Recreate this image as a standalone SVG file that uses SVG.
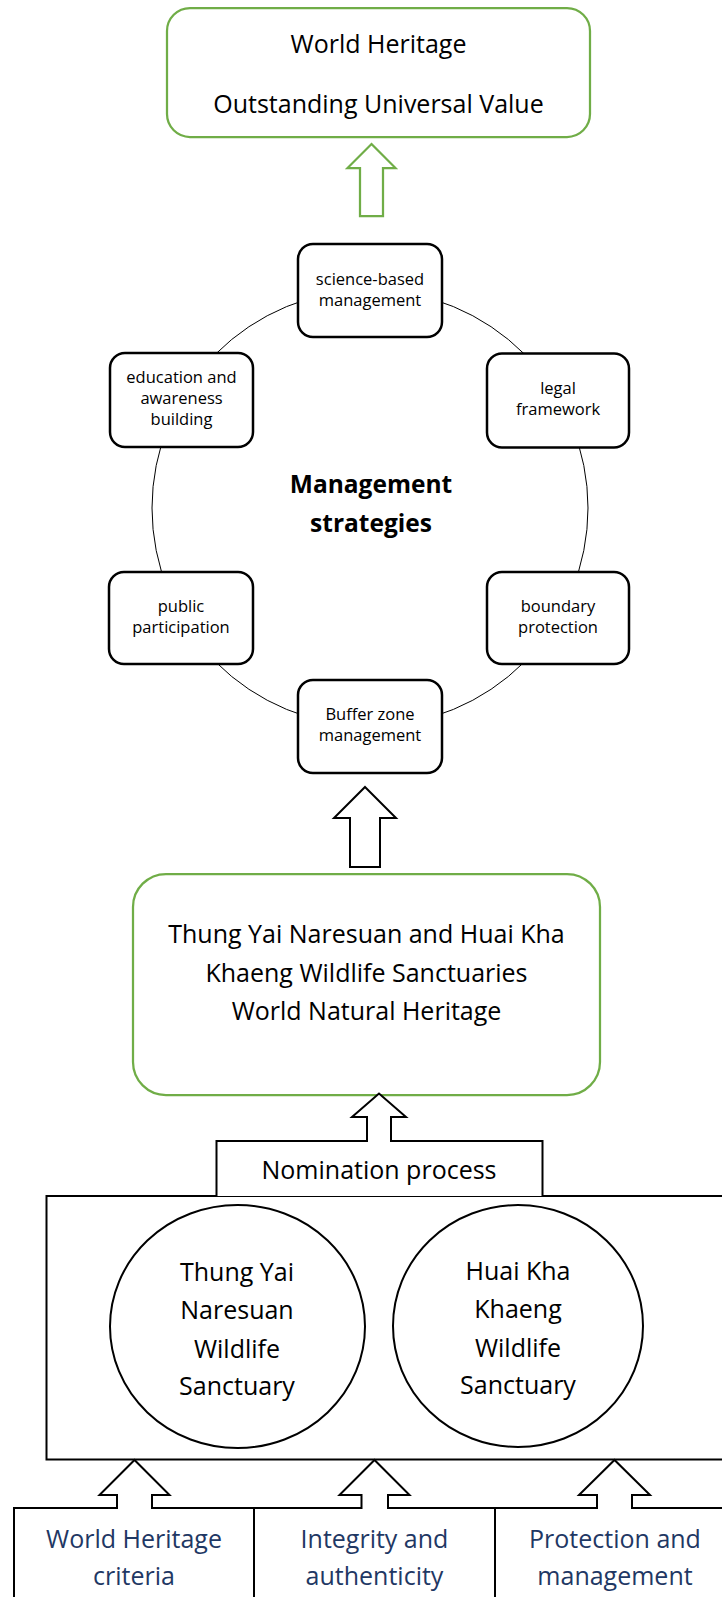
<svg xmlns="http://www.w3.org/2000/svg" width="722" height="1597" viewBox="0 0 722 1597">
<style>
text{font-family:"Open Sans","Noto Sans","Liberation Sans",sans-serif;fill:#000;text-anchor:middle}
.lg{font-size:25px}
.sm{font-size:16.5px}
.bd{font-size:24.5px;font-weight:bold}
.bl{fill:#1F3864}
.gbox{fill:#fff;stroke:#70AD47;stroke-width:2.25}
.sbox{fill:#fff;stroke:#000;stroke-width:2.5}
.blk{fill:#fff;stroke:#000;stroke-width:2}
.ring{fill:none;stroke:#000;stroke-width:1}
</style>
<rect width="722" height="1597" fill="#fff"/>

<g id="ring"><circle class="ring" cx="370" cy="508" r="218"/></g>

<g id="connectors">
<polygon class="gbox" points="371.5,144 395.5,168 383,168 383,216 360,216 360,168 347.5,168"/>
<polygon class="blk" points="365,787 396,818 380,818 380,867 350,867 350,818 334,818"/>
</g>

<g id="ouv">
<rect class="gbox" x="167" y="8" width="423" height="129" rx="23"/>
<text class="lg" x="378.5" y="53">World Heritage</text>
<text class="lg" x="378.5" y="113">Outstanding Universal Value</text>
</g>

<g id="science">
<rect class="sbox" x="298" y="244" width="144" height="93" rx="15"/>
<text class="sm" x="370" y="284.5">science-based</text>
<text class="sm" x="370" y="305.5">management</text>
</g>
<g id="education">
<rect class="sbox" x="110" y="353" width="143" height="94" rx="15"/>
<text class="sm" x="181.5" y="383">education and</text>
<text class="sm" x="181.5" y="404">awareness</text>
<text class="sm" x="181.5" y="425">building</text>
</g>
<g id="legal">
<rect class="sbox" x="487" y="353.5" width="142" height="94" rx="15"/>
<text class="sm" x="558" y="393.5">legal</text>
<text class="sm" x="558" y="414.5">framework</text>
</g>
<g id="public">
<rect class="sbox" x="109" y="572" width="144" height="92" rx="15"/>
<text class="sm" x="181" y="611.5">public</text>
<text class="sm" x="181" y="632.5">participation</text>
</g>
<g id="boundary">
<rect class="sbox" x="487" y="572" width="142" height="92" rx="15"/>
<text class="sm" x="558" y="612">boundary</text>
<text class="sm" x="558" y="633">protection</text>
</g>
<g id="buffer">
<rect class="sbox" x="298" y="680" width="144" height="93" rx="15"/>
<text class="sm" x="370" y="719.5">Buffer zone</text>
<text class="sm" x="370" y="740.5">management</text>
</g>
<g id="strategies">
<text class="bd" x="371" y="493">Management</text>
<text class="bd" x="371" y="532">strategies</text>
</g>

<g id="whs">
<rect class="gbox" x="133" y="874" width="467" height="221" rx="33"/>
<text class="lg" x="366.5" y="943">Thung Yai Naresuan and Huai Kha</text>
<text class="lg" x="366.5" y="982">Khaeng Wildlife Sanctuaries</text>
<text class="lg" x="366.5" y="1020">World Natural Heritage</text>
</g>

<g id="sanctuaries">
<rect class="blk" x="46.5" y="1196" width="690" height="263.5"/>
</g>

<g id="nomination">
<path class="blk" d="M216.5,1196 V1141 H367 V1117 H352 L379,1093.5 L406,1117 H391 V1141 H542.5 V1196"/>
<text class="lg" x="379" y="1179">Nomination process</text>
</g>

<g id="thungyai">
<ellipse class="blk" cx="237.5" cy="1326.5" rx="127.5" ry="121.5"/>
<text class="lg" x="237" y="1281">Thung Yai</text>
<text class="lg" x="237" y="1319">Naresuan</text>
<text class="lg" x="237" y="1358">Wildlife</text>
<text class="lg" x="237" y="1395">Sanctuary</text>
</g>
<g id="huaikhakhaeng">
<ellipse class="blk" cx="518" cy="1326" rx="125" ry="121"/>
<text class="lg" x="518" y="1280">Huai Kha</text>
<text class="lg" x="518" y="1318">Khaeng</text>
<text class="lg" x="518" y="1357">Wildlife</text>
<text class="lg" x="518" y="1394">Sanctuary</text>
</g>

<g id="inputs">
<path class="blk" d="M14,1610 V1508 H117 V1495 H99.5 L134.5,1460 L169.5,1495 H152 V1508 H361.5 V1495 H339.5 L374.5,1460 L409.5,1495 H388 V1508 H597 V1495 H579 L614.5,1460 L650,1495 H632 V1508 H730"/>
<line class="blk" x1="254" y1="1508" x2="254" y2="1610"/>
<line class="blk" x1="495" y1="1508" x2="495" y2="1610"/>
</g>
<g id="criteria">
<text class="lg bl" x="134" y="1548">World Heritage</text>
<text class="lg bl" x="134" y="1585">criteria</text>
</g>
<g id="integrity">
<text class="lg bl" x="374.5" y="1548">Integrity and</text>
<text class="lg bl" x="374.5" y="1585">authenticity</text>
</g>
<g id="protection">
<text class="lg bl" x="615" y="1548">Protection and</text>
<text class="lg bl" x="615" y="1585">management</text>
</g>
</svg>
